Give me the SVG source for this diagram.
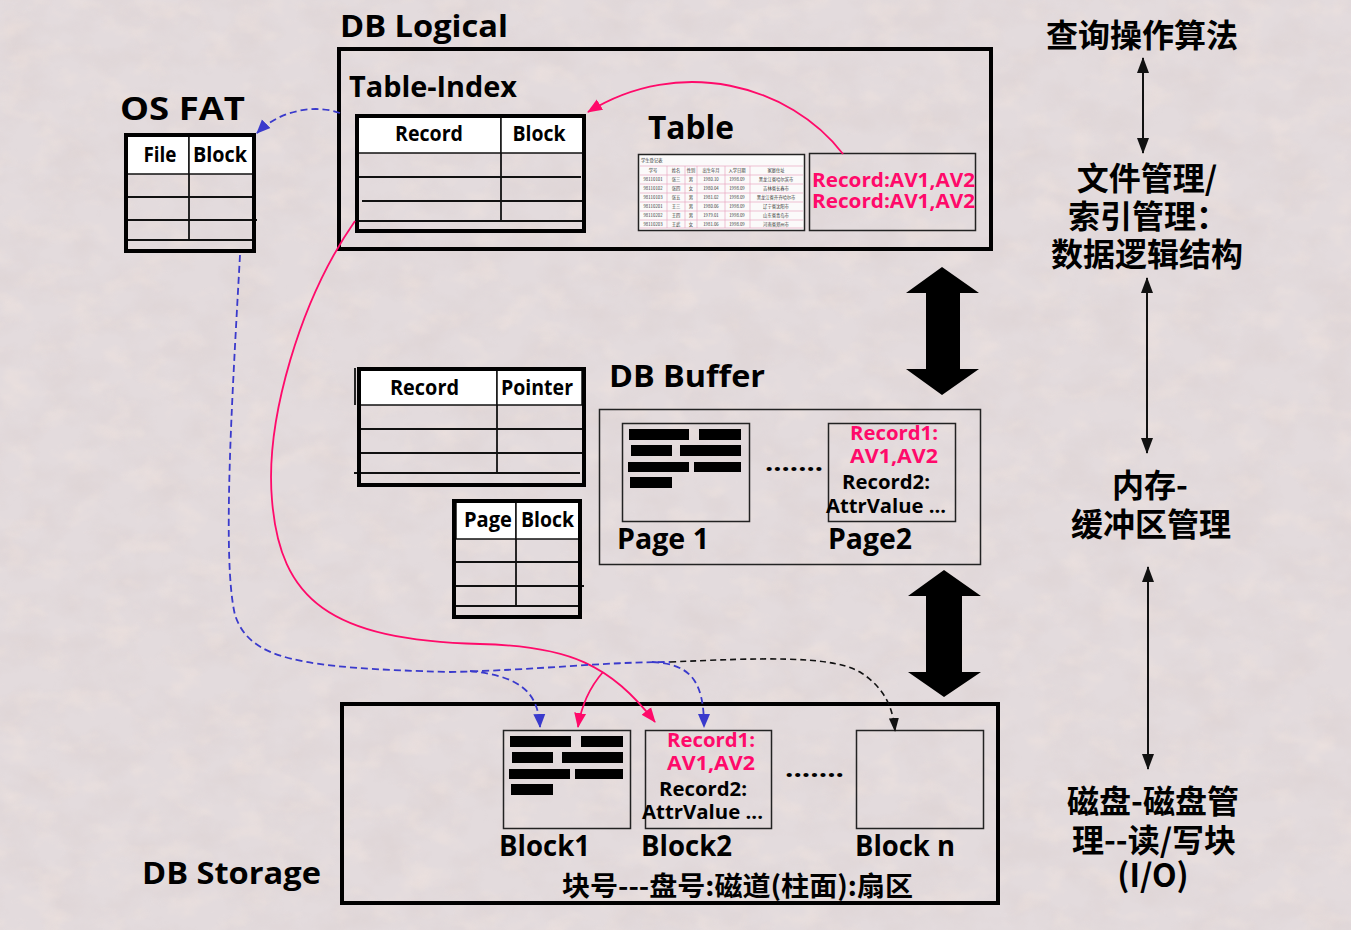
<svg xmlns="http://www.w3.org/2000/svg" width="1351" height="930" viewBox="0 0 1351 930">
<style>
.t{font-family:"Open Sans","Noto Sans CJK SC",sans-serif;font-weight:700;fill:#000}
.c{font-family:"Noto Sans CJK SC",sans-serif;font-weight:700;fill:#000}
.m{fill:#ff0a6a}
.frame{fill:none;stroke:#000;stroke-width:4}
.thin{fill:none;stroke:#222;stroke-width:1.5}
.ln{stroke:#111;stroke-width:1.8}
.hdr{fill:#fff;stroke:#111;stroke-width:1.5}
.bar{fill:#000}
.tiny{font-family:"Noto Sans CJK SC",sans-serif;font-size:4.3px;fill:#333}
.blue{fill:none;stroke:#3a3acc;stroke-width:1.8;stroke-dasharray:7 4}
.blk{fill:none;stroke:#111;stroke-width:1.6;stroke-dasharray:6 4}
.mag{fill:none;stroke:#ff0a6a;stroke-width:1.8}
.vl{fill:none;stroke:#111;stroke-width:2}
</style>
<defs>
<marker id="ab" markerUnits="userSpaceOnUse" markerWidth="14" markerHeight="14" viewBox="0 0 14 14" refX="13" refY="7" orient="auto"><path d="M0,1 L14,7 L0,13 Z" fill="#3a3acc"/></marker>
<marker id="am" markerUnits="userSpaceOnUse" markerWidth="15" markerHeight="14" viewBox="0 0 15 14" refX="14" refY="7" orient="auto"><path d="M0,1 L15,7 L0,13 Z" fill="#ff0a6a"/></marker>
<marker id="ak" markerUnits="userSpaceOnUse" markerWidth="14" markerHeight="12" viewBox="0 0 14 12" refX="13" refY="6" orient="auto"><path d="M0,1 L14,6 L0,11 Z" fill="#111"/></marker>
<marker id="av" markerUnits="userSpaceOnUse" markerWidth="16" markerHeight="12" viewBox="0 0 16 12" refX="15" refY="6" orient="auto-start-reverse"><path d="M0,0 L16,6 L0,12 Z" fill="#111"/></marker>
<filter id="tex" x="0" y="0" width="100%" height="100%">
<feTurbulence type="fractalNoise" baseFrequency="0.022 0.03" numOctaves="4" seed="11" result="n"/>
<feColorMatrix in="n" type="matrix" values="0 0 0 0 0.62  0 0 0 0 0.52  0 0 0 0 0.50  0 0 0 -1.8 1.1"/>
</filter>
<filter id="tex2" x="0" y="0" width="100%" height="100%">
<feTurbulence type="fractalNoise" baseFrequency="0.03 0.045" numOctaves="3" seed="3" result="n"/>
<feColorMatrix in="n" type="matrix" values="0 0 0 0 0.95  0 0 0 0 0.82  0 0 0 0 0.74  0 0 0 2.2 -1.1"/>
</filter>
</defs>

<rect id="bg" x="0" y="0" width="1351" height="930" fill="#e3dbdd"/>
<rect x="0" y="0" width="1351" height="930" filter="url(#tex)" opacity="0.22"/>
<rect x="0" y="0" width="1351" height="930" filter="url(#tex2)" opacity="0.35"/>

<g id="db-logical">
<text class="t" x="340" y="37" font-size="31" textLength="168" lengthAdjust="spacingAndGlyphs">DB Logical</text>
<rect class="frame" x="339" y="49" width="652" height="200"/>
</g>

<g id="table-index">
<text class="t" x="349" y="97" font-size="28" textLength="168" lengthAdjust="spacingAndGlyphs">Table-Index</text>
<rect class="hdr" x="358" y="117" width="143" height="36"/>
<rect class="hdr" x="501" y="117" width="82" height="36"/>
<line class="ln" x1="501" y1="153" x2="501" y2="222"/>
<line class="ln" x1="358" y1="177" x2="581" y2="177"/>
<line class="ln" x1="362" y1="201" x2="586" y2="201"/>
<line class="ln" x1="358" y1="221" x2="584" y2="221"/>
<rect class="frame" x="357" y="116" width="227" height="115"/>
<text class="t" x="429" y="141" font-size="21" text-anchor="middle" textLength="68" lengthAdjust="spacingAndGlyphs">Record</text>
<text class="t" x="539" y="141" font-size="21" text-anchor="middle" textLength="53" lengthAdjust="spacingAndGlyphs">Block</text>
</g>

<g id="os-fat">
<text class="t" x="120" y="120" font-size="32" textLength="125" lengthAdjust="spacingAndGlyphs">OS  FAT</text>
<rect class="hdr" x="127" y="136" width="62" height="38"/>
<rect class="hdr" x="189" y="136" width="64" height="38"/>
<line class="ln" x1="189" y1="174" x2="189" y2="241"/>
<line class="ln" x1="127" y1="197" x2="252" y2="197"/>
<line class="ln" x1="127" y1="220" x2="257" y2="220"/>
<line class="ln" x1="127" y1="240" x2="252" y2="240"/>
<rect class="frame" x="126" y="135" width="128" height="116"/>
<text class="t" x="160" y="162" font-size="21" text-anchor="middle" textLength="33" lengthAdjust="spacingAndGlyphs">File</text>
<text class="t" x="220" y="162" font-size="21" text-anchor="middle" textLength="54" lengthAdjust="spacingAndGlyphs">Block</text>
</g>

<g id="table">
<text class="t" x="648" y="139" font-size="33" textLength="86" lengthAdjust="spacingAndGlyphs">Table</text>
<rect x="638.5" y="154.5" width="166" height="76" fill="#fbfafa" stroke="#222" stroke-width="1.5"/>
<g stroke="#e9a8c0" stroke-width="0.7">
<line x1="640" y1="166" x2="803" y2="166"/>
<line x1="640" y1="175" x2="803" y2="175"/>
<line x1="640" y1="184" x2="803" y2="184"/>
<line x1="640" y1="193" x2="803" y2="193"/>
<line x1="640" y1="202" x2="803" y2="202"/>
<line x1="640" y1="211" x2="803" y2="211"/>
<line x1="640" y1="220" x2="803" y2="220"/>
<line x1="640" y1="228" x2="803" y2="228"/>
<line x1="667" y1="166" x2="667" y2="228"/>
<line x1="685" y1="166" x2="685" y2="228"/>
<line x1="697" y1="166" x2="697" y2="228"/>
<line x1="725" y1="166" x2="725" y2="228"/>
<line x1="750" y1="166" x2="750" y2="228"/>
</g>
<text class="tiny" x="641" y="162">学生登记表</text>
<g class="tiny" text-anchor="middle">
<text x="653" y="172">学号</text><text x="676" y="172">姓名</text><text x="691" y="172">性别</text><text x="711" y="172">出生年月</text><text x="737" y="172">入学日期</text><text x="776" y="172">家庭住址</text>
<text x="653" y="181">98110101</text><text x="676" y="181">张三</text><text x="691" y="181">男</text><text x="711" y="181">1980.10</text><text x="737" y="181">1998.09</text><text x="776" y="181">黑龙江省哈尔滨市</text>
<text x="653" y="190">98110102</text><text x="676" y="190">张四</text><text x="691" y="190">女</text><text x="711" y="190">1980.04</text><text x="737" y="190">1998.09</text><text x="776" y="190">吉林省长春市</text>
<text x="653" y="199">98110103</text><text x="676" y="199">张五</text><text x="691" y="199">男</text><text x="711" y="199">1981.02</text><text x="737" y="199">1998.09</text><text x="776" y="199">黑龙江省齐齐哈尔市</text>
<text x="653" y="208">98110201</text><text x="676" y="208">王三</text><text x="691" y="208">男</text><text x="711" y="208">1980.06</text><text x="737" y="208">1998.09</text><text x="776" y="208">辽宁省沈阳市</text>
<text x="653" y="217">98110202</text><text x="676" y="217">王四</text><text x="691" y="217">男</text><text x="711" y="217">1979.01</text><text x="737" y="217">1998.09</text><text x="776" y="217">山东省青岛市</text>
<text x="653" y="226">98110203</text><text x="676" y="226">王武</text><text x="691" y="226">女</text><text x="711" y="226">1981.06</text><text x="737" y="226">1998.09</text><text x="776" y="226">河南省郑州市</text>
</g>
</g>

<g id="record-values">
<rect class="thin" x="809.5" y="153.5" width="166" height="77"/>
<text class="t m" x="812" y="187" font-size="20" textLength="163" lengthAdjust="spacingAndGlyphs">Record:AV1,AV2</text>
<text class="t m" x="812" y="208" font-size="20" textLength="163" lengthAdjust="spacingAndGlyphs">Record:AV1,AV2</text>
</g>

<g id="record-pointer">
<rect class="hdr" x="359" y="370" width="138" height="35"/>
<rect class="hdr" x="497" y="370" width="85" height="35"/>
<line class="ln" x1="355" y1="368" x2="355" y2="405"/>
<line class="ln" x1="497" y1="405" x2="497" y2="474"/>
<line class="ln" x1="359" y1="429" x2="586" y2="429"/>
<line class="ln" x1="359" y1="453" x2="582" y2="453"/>
<line class="ln" x1="354" y1="473" x2="580" y2="473"/>
<rect class="frame" x="359" y="369" width="225" height="116"/>
<text class="t" x="424.5" y="395" font-size="21" text-anchor="middle" textLength="69" lengthAdjust="spacingAndGlyphs">Record</text>
<text class="t" x="537" y="395" font-size="21" text-anchor="middle" textLength="72" lengthAdjust="spacingAndGlyphs">Pointer</text>
</g>

<g id="page-block">
<rect class="hdr" x="456" y="502" width="60" height="37"/>
<rect class="hdr" x="516" y="502" width="63" height="37"/>
<line class="ln" x1="516" y1="539" x2="516" y2="606"/>
<line class="ln" x1="455" y1="562" x2="580" y2="562"/>
<line class="ln" x1="455" y1="586" x2="584" y2="586"/>
<line class="ln" x1="455" y1="606" x2="580" y2="606"/>
<rect class="frame" x="454" y="501" width="126" height="116"/>
<text class="t" x="488" y="527" font-size="21" text-anchor="middle" textLength="48" lengthAdjust="spacingAndGlyphs">Page</text>
<text class="t" x="547.5" y="527" font-size="21" text-anchor="middle" textLength="53" lengthAdjust="spacingAndGlyphs">Block</text>
</g>

<g id="db-buffer">
<text class="t" x="609" y="387" font-size="30" textLength="156" lengthAdjust="spacingAndGlyphs">DB Buffer</text>
<rect class="thin" x="599.5" y="409.5" width="381" height="155"/>
</g>

<g id="page1">
<rect class="thin" x="622.5" y="423.5" width="127" height="98"/>
<rect class="bar" x="629" y="429" width="60" height="11"/>
<rect class="bar" x="699" y="429" width="42" height="11"/>
<rect class="bar" x="631" y="445" width="41" height="11"/>
<rect class="bar" x="680" y="445" width="61" height="11"/>
<rect class="bar" x="628" y="462" width="61" height="10"/>
<rect class="bar" x="694" y="462" width="47" height="10"/>
<rect class="bar" x="630" y="477" width="42" height="11"/>
<text class="t" x="617" y="549" font-size="28" textLength="92" lengthAdjust="spacingAndGlyphs">Page 1</text>
</g>

<text class="t" x="765" y="471" font-size="24" textLength="58" lengthAdjust="spacingAndGlyphs">.......</text>

<g id="page2">
<rect class="thin" x="828.5" y="423.5" width="127" height="98"/>
<text class="t m" x="894" y="440" font-size="20" text-anchor="middle" textLength="88" lengthAdjust="spacingAndGlyphs">Record1:</text>
<text class="t m" x="894" y="463" font-size="20" text-anchor="middle" textLength="88" lengthAdjust="spacingAndGlyphs">AV1,AV2</text>
<text class="t" x="886" y="489" font-size="20" text-anchor="middle" textLength="88" lengthAdjust="spacingAndGlyphs">Record2:</text>
<text class="t" x="826" y="513" font-size="20" textLength="120" lengthAdjust="spacingAndGlyphs">AttrValue ...</text>
<text class="t" x="828" y="549" font-size="28" textLength="84" lengthAdjust="spacingAndGlyphs">Page2</text>
</g>

<g id="big-arrows">
<polygon points="942,267 979,293 960,293 960,369 979,369 942,395 906,369 926,369 926,293 906,293" fill="#000"/>
<polygon points="944,570 981,596 962,596 962,672 981,672 944,697 908,672 926,672 926,596 908,596" fill="#000"/>
</g>

<g id="db-storage">
<rect class="frame" x="342" y="704" width="656" height="199"/>
<text class="t" x="142" y="884" font-size="30" textLength="179" lengthAdjust="spacingAndGlyphs">DB Storage</text>
<text class="c" x="562" y="896" font-size="27" textLength="351" lengthAdjust="spacingAndGlyphs">块号---盘号:磁道(柱面):扇区</text>
</g>

<g id="block1">
<rect class="thin" x="503.5" y="730.5" width="127" height="98"/>
<rect class="bar" x="510" y="736" width="61" height="11"/>
<rect class="bar" x="581" y="736" width="42" height="11"/>
<rect class="bar" x="512" y="752" width="41" height="11"/>
<rect class="bar" x="562" y="752" width="61" height="11"/>
<rect class="bar" x="509" y="769" width="61" height="10"/>
<rect class="bar" x="575" y="769" width="48" height="10"/>
<rect class="bar" x="511" y="784" width="42" height="11"/>
<text class="t" x="499" y="856" font-size="28" textLength="91" lengthAdjust="spacingAndGlyphs">Block1</text>
</g>

<g id="block2">
<rect class="thin" x="645.5" y="730.5" width="126" height="98"/>
<text class="t m" x="711" y="747" font-size="20" text-anchor="middle" textLength="88" lengthAdjust="spacingAndGlyphs">Record1:</text>
<text class="t m" x="711" y="770" font-size="20" text-anchor="middle" textLength="88" lengthAdjust="spacingAndGlyphs">AV1,AV2</text>
<text class="t" x="703" y="796" font-size="20" text-anchor="middle" textLength="88" lengthAdjust="spacingAndGlyphs">Record2:</text>
<text class="t" x="642" y="819" font-size="20" textLength="121" lengthAdjust="spacingAndGlyphs">AttrValue ...</text>
<text class="t" x="641" y="856" font-size="28" textLength="91" lengthAdjust="spacingAndGlyphs">Block2</text>
</g>

<text class="t" x="785" y="777" font-size="24" textLength="59" lengthAdjust="spacingAndGlyphs">.......</text>

<g id="blockn">
<rect class="thin" x="856.5" y="730.5" width="127" height="98"/>
<text class="t" x="855" y="856" font-size="28" textLength="100" lengthAdjust="spacingAndGlyphs">Block n</text>
</g>

<g id="right-labels">
<text class="c" x="1142" y="47" font-size="32" text-anchor="middle">查询操作算法</text>
<text class="c" x="1147" y="190" font-size="32" text-anchor="middle">文件管理/</text>
<text class="c" x="1148" y="228" font-size="32" text-anchor="middle">索引管理：</text>
<text class="c" x="1147" y="266" font-size="32" text-anchor="middle">数据逻辑结构</text>
<text class="c" x="1150" y="497" font-size="32" text-anchor="middle">内存-</text>
<text class="c" x="1151" y="536" font-size="32" text-anchor="middle">缓冲区管理</text>
<text class="c" x="1153" y="813" font-size="32" text-anchor="middle">磁盘-磁盘管</text>
<text class="c" x="1154" y="852" font-size="32" text-anchor="middle">理--读/写块</text>
<text class="c" x="1153" y="887" font-size="32" text-anchor="middle">(I/O)</text>
</g>

<g id="connectors">
<line class="vl" x1="1143" y1="58" x2="1143" y2="153" marker-start="url(#av)" marker-end="url(#av)"/>
<line class="vl" x1="1147" y1="278" x2="1147" y2="453" marker-start="url(#av)" marker-end="url(#av)"/>
<line class="vl" x1="1148" y1="567" x2="1148" y2="769" marker-start="url(#av)" marker-end="url(#av)"/>
<path class="mag" d="M843,154 C790,85 680,55 588,112" marker-end="url(#am)"/>
<path class="mag" d="M355,221 C300,300 265,420 272,500 C280,600 330,640 480,644 C570,646 610,665 655,722" marker-end="url(#am)"/>
<path class="mag" d="M603,672 Q583,695 578,727" marker-end="url(#am)"/>
<path class="blue" d="M340,113 C315,104 280,110 257,133" marker-end="url(#ab)"/>
<path class="blue" d="M240,255 C232,400 222,560 235,615 C250,660 300,668 450,672 C540,670 600,662 670,662"/>
<path class="blue" d="M470,671 C515,676 538,688 540,727" marker-end="url(#ab)"/>
<path class="blue" d="M652,662 C690,664 704,680 704,727" marker-end="url(#ab)"/>
<path class="blk" d="M670,662 C760,658 830,655 860,672 C885,688 893,708 895,731" marker-end="url(#ak)"/>
</g>
</svg>
